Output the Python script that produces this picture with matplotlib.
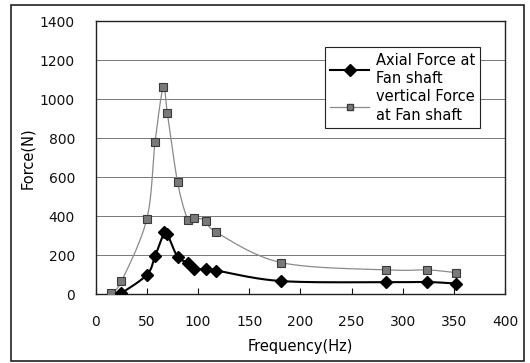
import numpy as np
import matplotlib
matplotlib.use("Agg")
import matplotlib.pyplot as plt
from matplotlib.patches import Rectangle

plt.rcParams['font.family'] = ['DejaVu Sans']

# ---- data ----
axial_freq = [25, 50, 58, 67, 70, 80, 90, 96, 108, 118, 181, 284, 324, 352]
axial_force = [5, 100, 195, 318, 310, 192, 163, 130, 130, 122, 68, 62, 63, 55]

vert_freq = [15, 25, 50, 58, 66, 70, 80, 90, 96, 108, 118, 181, 284, 324, 352]
vert_force = [5, 66, 388, 782, 1062, 930, 575, 383, 390, 378, 318, 163, 125, 125, 111]

x_ticks = [0, 50, 100, 150, 200, 250, 300, 350, 400]
y_ticks = [0, 200, 400, 600, 800, 1000, 1200, 1400]

label_axial = "Axial Force at\nFan shaft"
label_vert = "vertical Force\nat Fan shaft"


def smooth(xs, ys, n=20):
    """Catmull-Rom curve through the points (line rendering only)."""
    p = np.column_stack([xs, ys]).astype(float)
    p = np.vstack([p[0], p, p[-1]])
    out = []
    t = np.linspace(0, 1, n, endpoint=False)[:, None]
    for i in range(1, len(p) - 2):
        p0, p1, p2, p3 = p[i - 1], p[i], p[i + 1], p[i + 2]
        seg = 0.5 * ((2 * p1) + (-p0 + p2) * t + (2 * p0 - 5 * p1 + 4 * p2 - p3) * t ** 2
                     + (-p0 + 3 * p1 - 3 * p2 + p3) * t ** 3)
        out.append(seg)
    out.append(p[-2][None, :])
    out = np.vstack(out)
    return out[:, 0], out[:, 1]


fig = plt.figure(figsize=(5.30, 3.63), dpi=100)
ax = fig.add_axes([0.1806, 0.1893, 0.7723, 0.7515])

# outer frame
fig.patches.append(Rectangle((11 / 530, 1 - 361 / 363), (524 - 11) / 530, (361 - 5) / 363,
                             transform=fig.transFigure, fill=False, edgecolor='#222222',
                             linewidth=1.2))

ax.set_xlim(0, 400)
ax.set_ylim(0, 1400)
ax.set_xticks(x_ticks)
ax.set_yticks(y_ticks)
ax.tick_params(axis='x', direction='in', length=4, width=0.8, labelsize=10, pad=15, colors='#111111')
ax.tick_params(axis='y', direction='in', length=0, labelsize=10, pad=15, colors='#111111')
ax.yaxis.grid(True, color='#777777', linewidth=0.7)
ax.set_axisbelow(True)
for s in ax.spines.values():
    s.set_color('#222222')
    s.set_linewidth(1.0)

vx, vy = smooth(vert_freq, vert_force)
ax.plot(vx, vy, color='#8a8a8a', linewidth=0.9, zorder=3)
ax.plot(vert_freq, vert_force, linestyle='none', marker='s', markersize=6,
        markerfacecolor='#7a7a7a', markeredgecolor='#3a3a3a', markeredgewidth=0.8, zorder=4)

axx, axy = smooth(axial_freq, axial_force)
ax.plot(axx, axy, color='black', linewidth=1.5, zorder=5)
ax.plot(axial_freq, axial_force, linestyle='none', marker='D', markersize=6,
        markerfacecolor='black', markeredgecolor='black', zorder=6)

# legend handles
h1, = ax.plot([], [], color='black', linewidth=1.5, marker='D', markersize=6)
h2, = ax.plot([], [], color='#8a8a8a', linewidth=0.9, marker='s', markersize=5,
              markerfacecolor='#7a7a7a', markeredgecolor='#3a3a3a')
leg = ax.legend([h1, h2], [label_axial, label_vert], loc='upper left',
                bbox_to_anchor=(0.56, 0.905), fontsize=10.5, frameon=True, fancybox=False,
                edgecolor='#222222', framealpha=1, handlelength=2.7, handletextpad=0.45,
                borderpad=0.35, labelspacing=0.2, borderaxespad=0)
leg.get_frame().set_linewidth(0.8)
for t in leg.get_texts():
    t.set_linespacing(1.3)

ax.set_xlabel('Frequency(Hz)', fontsize=10.5, labelpad=7)
ax.set_ylabel('Force(N)', fontsize=10.5, labelpad=3)

fig.savefig('out.png', dpi=100)
